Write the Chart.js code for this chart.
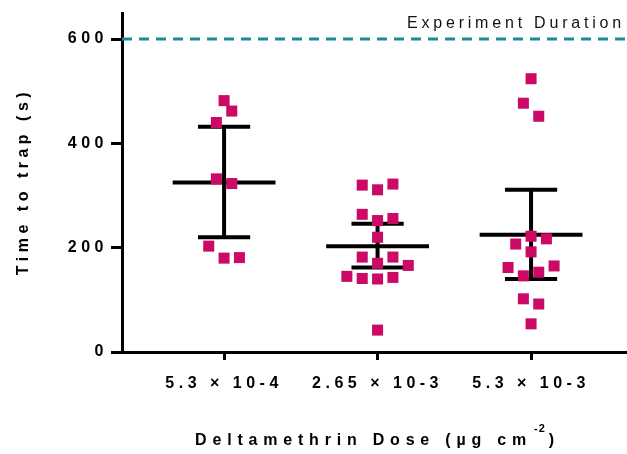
<!DOCTYPE html>
<html lang="en">

<head>
  <meta charset="utf-8">
  <style>
    html,
    body {
      margin: 0;
      padding: 0;
      background-color: #ffffff;
    }
  </style>
</head>

<body>
  <canvas id="myChart" width="627" height="454"></canvas>

  <script src="https://cdn.jsdelivr.net/npm/chart.js"></script>
  <script>

    const doseLabels = ['5.3 × 10-4', '2.65 × 10-3', '5.3 × 10-3'];
    const yTicks = [0, 200, 400, 600];
    const durationLimit = 600;

    // time to trap (s) per insect, with horizontal scatter
    const dose1 = [482, 462, 440, 332, 323, 203, 180, 181];
    const jitter1 = [0, 0.05, -0.05, -0.05, 0.05, -0.1, 0, 0.1];
    const dose2 = [320, 311, 322, 264, 252, 256, 220, 182, 182, 170, 166, 145, 141, 140, 143, 42];
    const jitter2 = [-0.1, 0, 0.1, -0.1, 0, 0.1, 0, -0.1, 0.1, 0, 0.2, -0.2, -0.1, 0, 0.1, 0];
    const dose3 = [524, 477, 452, 222, 217, 207, 192, 162, 165, 153, 146, 102, 92, 54];
    const jitter3 = [0, -0.05, 0.05, 0, 0.1, -0.1, 0, -0.15, 0.15, 0.05, -0.05, -0.05, 0.05, 0];

    const means = [325, 203, 225];
    const upper = [432, 246, 311];
    const lower = [220, 162, 140];

    /* ------------------------------------------------ */

    const FONT = "'Liberation Sans', Arial, sans-serif";
    const PINK = '#cc0a66';
    const TEAL = '#1b8aa1';
    const X_MIN = 0.335;
    const X_MAX = 3.625;
    const MEAN_HALF = 0.335;
    const CAP_HALF = 0.17;
    const SPACING = '4.5px';

    function points(values, jitter, group) {
      return values.map((v, i) => ({ x: group + jitter[i], y: v }));
    }

    function barLines(i) {
      const x = i + 1;
      return [
        { x: x - MEAN_HALF, y: means[i] }, { x: x + MEAN_HALF, y: means[i] }, { x: x, y: null },
        { x: x - CAP_HALF, y: upper[i] }, { x: x + CAP_HALF, y: upper[i] }, { x: x, y: null },
        { x: x - CAP_HALF, y: lower[i] }, { x: x + CAP_HALF, y: lower[i] }, { x: x, y: null },
        { x: x, y: upper[i] }, { x: x, y: lower[i] }
      ];
    }

    let datasets = [];
    [[dose1, jitter1], [dose2, jitter2], [dose3, jitter3]].forEach((g, i) => {
      datasets.push({
        data: points(g[0], g[1], i + 1),
        backgroundColor: PINK,
        pointStyle: 'rect',
        pointRadius: 7.8,
        pointBorderWidth: 0,
        order: 0
      });
    });
    doseLabels.forEach((lbl, i) => {
      datasets.push({
        data: barLines(i),
        showLine: true,
        borderColor: '#000',
        borderWidth: 4,
        borderCapStyle: 'butt',
        pointRadius: 0,
        spanGaps: false,
        order: 1
      });
    });
    datasets.push({
      data: [{ x: X_MIN, y: durationLimit }, { x: X_MAX, y: durationLimit }],
      showLine: true,
      borderColor: TEAL,
      borderWidth: 3,
      borderDash: [10, 7],
      pointRadius: 0,
      order: 2
    });

    /* ------------------------------------------------ */

    const textPlugin = {
      id: 'textPlugin',
      beforeLayout(chart) { chart.ctx.letterSpacing = SPACING; },
      beforeDraw(chart) { chart.ctx.letterSpacing = SPACING; },
      afterDraw(chart) {
        const ctx = chart.ctx;
        const y = chart.scales.y;
        const area = chart.chartArea;
        ctx.save();
        ctx.fillStyle = '#111';
        ctx.textBaseline = 'middle';

        // reference line label
        ctx.letterSpacing = '3.8px';
        ctx.textAlign = 'right';
        ctx.font = '16px ' + FONT;
        ctx.fillText('Experiment Duration', 625, y.getPixelForValue(durationLimit) - 15);

        // x axis title with superscript
        ctx.fillStyle = '#000';
        ctx.textAlign = 'left';
        const main = 'Deltamethrin Dose (µg cm';
        const sup = '-2';
        const close = ')';
        const mainFont = 'bold 16px ' + FONT;
        const supFont = 'bold 11px ' + FONT;
        const mainGap = '5.8px';
        ctx.font = mainFont;
        ctx.letterSpacing = mainGap;
        const wMain = ctx.measureText(main).width;
        const wClose = ctx.measureText(close).width;
        ctx.font = supFont;
        ctx.letterSpacing = '1px';
        const wSup = ctx.measureText(sup).width;
        let x = 378 - (wMain + wSup + wClose + 6) / 2;
        ctx.letterSpacing = mainGap;
        ctx.font = mainFont;
        ctx.fillText(main, x, 441);
        x += wMain + 2;
        ctx.font = supFont;
        ctx.letterSpacing = '1px';
        ctx.fillText(sup, x, 429);
        x += wSup + 3;
        ctx.font = mainFont;
        ctx.letterSpacing = mainGap;
        ctx.fillText(close, x, 441);

        // y axis title
        ctx.letterSpacing = SPACING;
        ctx.translate(24, (area.top + area.bottom) / 2 - 1);
        ctx.rotate(-Math.PI / 2);
        ctx.textAlign = 'center';
        ctx.font = mainFont;
        ctx.fillText('Time to trap (s)', 0, 0);
        ctx.restore();
      }
    };

    const ctx = document.getElementById('myChart').getContext('2d');
    const chart = new Chart(ctx, {
      type: 'scatter',
      data: { datasets: datasets },
      plugins: [textPlugin],
      options: {
        responsive: false,
        animation: false,
        layout: { autoPadding: false, padding: { top: 13, right: 0, bottom: 0, left: 0 } },
        plugins: {
          legend: { display: false },
          tooltip: { enabled: false }
        },
        scales: {
          x: {
            type: 'linear',
            min: X_MIN,
            max: X_MAX,
            afterFit: (s) => { s.height = 102; },
            afterBuildTicks: (s) => { s.ticks = doseLabels.map((l, i) => ({ value: i + 1 })); },
            border: { display: true, color: '#000', width: 3 },
            grid: { drawOnChartArea: false, drawTicks: true, tickLength: 8, tickWidth: 3, tickColor: '#000' },
            ticks: {
              color: '#000',
              padding: 14,
              maxRotation: 0,
              font: { family: FONT, size: 16, weight: 'bold' },
              callback: (v) => doseLabels[v - 1]
            }
          },
          y: {
            min: 0,
            max: 650,
            afterFit: (s) => { s.width = 122; },
            afterBuildTicks: (s) => { s.ticks = yTicks.map(v => ({ value: v })); },
            border: { display: true, color: '#000', width: 3 },
            grid: { drawOnChartArea: false, drawTicks: true, tickLength: 11, tickWidth: 3, tickColor: '#000' },
            ticks: {
              color: '#000',
              padding: 3,
              font: { family: FONT, size: 16, weight: 'bold' }
            }
          }
        }
      }
    });

  </script>
</body>

</html>
